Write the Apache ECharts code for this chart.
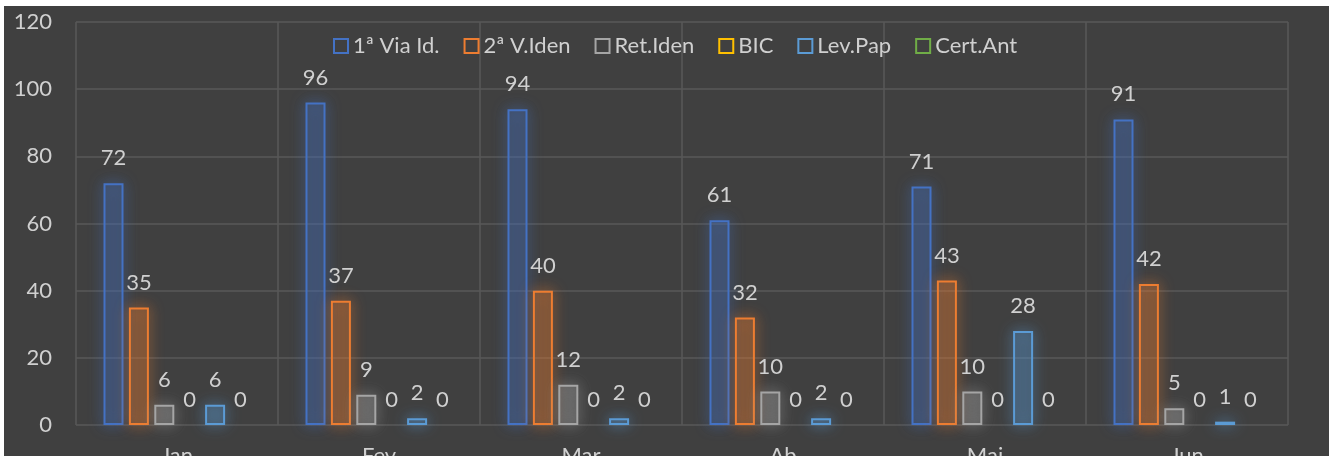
<!DOCTYPE html>
<html>
<head>
<meta charset="utf-8">
<script src="https://cdn.jsdelivr.net/npm/echarts@6/dist/echarts.min.js"></script>
<style>
    html, body { margin:0; padding:0; background:#ffffff; overflow:hidden; }
    #chart { position:absolute; left:4px; top:6px; width:1325px; height:450px; background:#404040; }
</style>
</head>
<body>
<div id="chart"></div>
<script>
var meses = ['Jan', 'Fev', 'Mar', 'Ab', 'Mai', 'Jun'];
var seriesNames = ['1ª Via Id.', '2ª V.Iden', 'Ret.Iden', 'BIC', 'Lev.Pap', 'Cert.Ant'];
var viaId   = [72, 96, 94, 61, 71, 91];
var segVia  = [35, 37, 40, 32, 43, 42];
var retIden = [6, 9, 12, 10, 10, 5];
var bic     = [0, 0, 0, 0, 0, 0];
var levPap  = [6, 2, 2, 2, 28, 1];
var certAnt = [0, 0, 0, 0, 0, 0];
var yTicks  = [0, 20, 40, 60, 80, 100, 120];

var allValues = [viaId, segVia, retIden, bic, levPap, certAnt];
var colors = ['#4472c4', '#ed7d31', '#a5a5a5', '#ffc000', '#5b9bd5', '#70ad47'];
var fonte = 'Lato, "Noto Sans", sans-serif';
var corTexto = '#d0d0d0';

function rgba(hex, a) {
    var r = parseInt(hex.substr(1, 2), 16), g = parseInt(hex.substr(3, 2), 16), b = parseInt(hex.substr(5, 2), 16);
    return 'rgba(' + r + ',' + g + ',' + b + ',' + a + ')';
}

var series = [];
for (var i = 0; i < seriesNames.length; i++) {
    var c = colors[i];
    // zero bars: no outline, just the label
    var data = allValues[i].map(function (v) {
        if (v === 0) return { value: 0, itemStyle: { borderWidth: 0, shadowBlur: 0 } };
        return v;
    });
    series.push({
        name: seriesNames[i],
        type: 'bar',
        barWidth: 20,
        barGap: '27%',
        itemStyle: {
            color: rgba(c, 0.2),
            borderColor: c,
            borderWidth: 2,
            shadowColor: c,
            shadowBlur: 14
        },
        label: {
            show: true,
            position: 'top',
            distance: 14,
            color: corTexto,
            fontSize: 22,
            fontFamily: fonte
        },
        emphasis: { disabled: true },
        data: data
    });
}

var chart = echarts.init(document.getElementById('chart'));
chart.setOption({
    animation: false,
    backgroundColor: '#404040',
    tooltip: { show: false },
    legend: {
        data: seriesNames,
        left: 324,
        top: 24,
        icon: 'rect',
        itemWidth: 14,
        itemHeight: 14,
        itemGap: 24,
        itemStyle: {
            color: 'transparent',
            borderWidth: 2,
            shadowBlur: 0
        },
        textStyle: {
            color: corTexto,
            fontSize: 22,
            fontFamily: fonte
        }
    },
    grid: {
        left: 72,
        right: 41,
        top: 16,
        bottom: 31,
        outerBoundsMode: 'none',
        containLabel: false
    },
    xAxis: {
        type: 'category',
        data: meses,
        axisLine: { show: false },
        axisTick: { show: false },
        splitLine: { show: true, lineStyle: { color: '#595959', width: 1.5 } },
        axisLabel: {
            color: corTexto,
            fontSize: 22,
            fontFamily: fonte,
            margin: 20
        }
    },
    yAxis: {
        type: 'value',
        min: yTicks[0],
        max: yTicks[yTicks.length - 1],
        interval: yTicks[1] - yTicks[0],
        axisLine: { show: false },
        axisTick: { show: false },
        splitLine: { lineStyle: { color: '#595959', width: 1.5 } },
        axisLabel: {
            color: corTexto,
            fontSize: 22,
            fontFamily: fonte,
            margin: 24
        }
    },
    series: series
});

window.addEventListener('resize', function () {
    chart.resize();
});
</script>
</body>
</html>
